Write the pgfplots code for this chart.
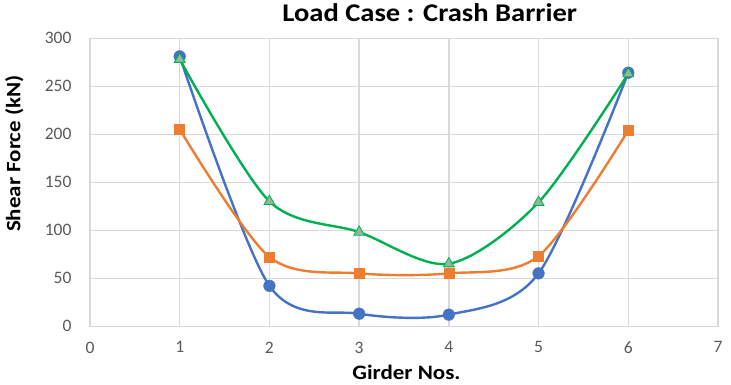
\documentclass[border=0pt]{standalone}
\usepackage{pgfplots}
\pgfplotsset{compat=1.18}
\usepackage{fontspec}
\setmainfont{Carlito}[BoldFeatures={FakeStretch=1.12}]
\definecolor{cblue}{HTML}{4472C4}
\definecolor{corange}{HTML}{ED7D31}
\definecolor{cgreen}{HTML}{00B050}
\definecolor{ctri}{HTML}{8FB99A}
\definecolor{cgrid}{HTML}{D9D9D9}
\definecolor{ctick}{HTML}{595959}
\begin{document}
\begin{tikzpicture}
\begin{axis}[
  scale only axis,
  width=628pt, height=288pt,
  xmin=0, xmax=7, ymin=0, ymax=300,
  xtick={0,1,...,7}, ytick={0,50,...,300},
  grid=major,
  major grid style={cgrid, line width=1.3pt},
  axis line style={cgrid, line width=1.3pt},
  tick style={draw=none},
  ticklabel style={font=\fontsize{17.5}{20}\selectfont, text=ctick},
  xticklabel style={yshift=-12pt},
  yticklabel style={xshift=-15pt},
  /pgf/number format/assume math mode=true,
  title={\textbf{Load Case : Crash Barrier}},
  title style={font=\fontsize{25.5}{30}\selectfont, at={(rel axis cs:0.541,1.038)}, anchor=base},
  xlabel={\textbf{Girder Nos.}},
  ylabel={\textbf{Shear Force (kN)}},
  label style={font=\fontsize{20.5}{24}\selectfont},
  xlabel style={at={(rel axis cs:0.504,-0.184)}, anchor=base},
  ylabel style={at={(rel axis cs:-0.1107,0.599)}, anchor=base, rotate=0},
  clip=false,
]
\addplot[cblue, line width=2.4pt, smooth, tension=0.5, mark=*, mark size=5.8pt, mark options={fill=cblue, draw=cblue, line width=0.5pt}]
  coordinates {(1,281) (2,42) (3,13) (4,12) (5,55) (6,264)};
\addplot[corange, line width=2.4pt, smooth, tension=0.5, mark=square*, mark size=5pt, mark options={fill=corange, draw=corange, line width=0.5pt}]
  coordinates {(1,205) (2,72) (3,55) (4,55) (5,73) (6,204)};
\addplot[cgreen, line width=2.4pt, smooth, tension=0.5, mark=triangle*, mark size=6.2pt, mark options={fill=ctri, draw=cgreen, line width=0.8pt}]
  coordinates {(1,278) (2,130) (3,98) (4,65) (5,129) (6,263)};
\path[use as bounding box] (rel axis cs:-0.1433,-0.2014) rectangle (rel axis cs:1.0207,1.1285);
\end{axis}
\end{tikzpicture}
\end{document}
